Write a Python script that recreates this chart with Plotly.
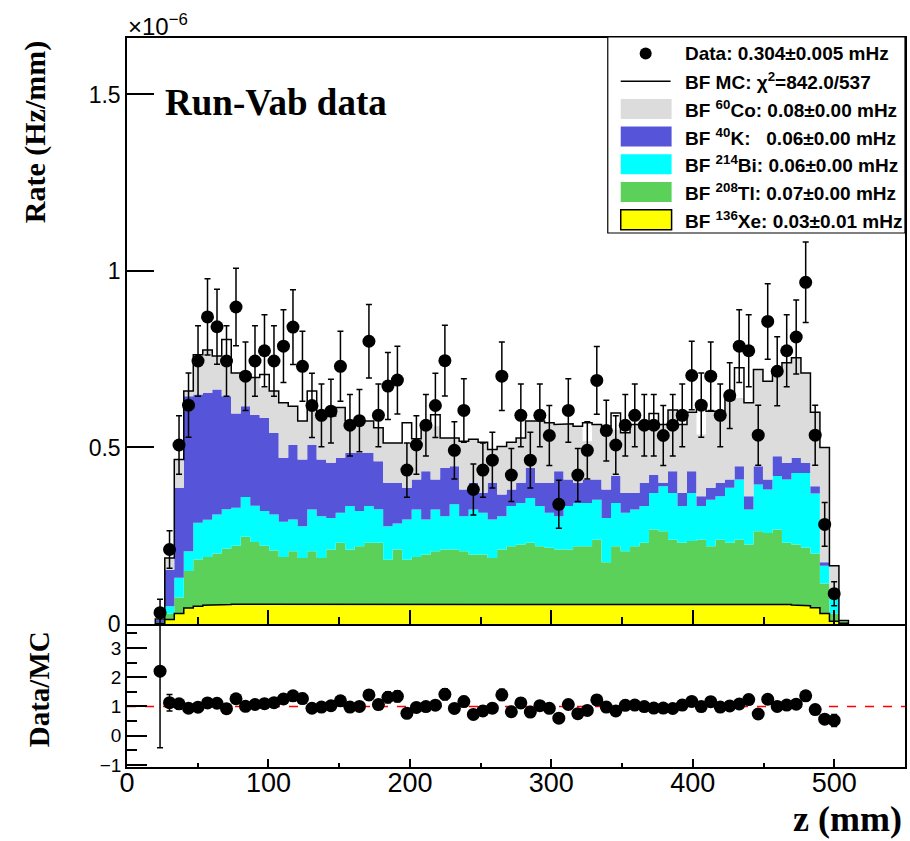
import numpy as np
import plotly.graph_objects as go

# ---------------- binning (z in mm) ----------------
z_lo, z_hi, n_bins = 20.0, 510.0, 73
edges = np.linspace(z_lo, z_hi, n_bins + 1)
centers = 0.5 * (edges[:-1] + edges[1:])

# ---------------- data (units of 1e-6 Hz/mm) ----------------
data_rate = [
    0.032, 0.211, 0.507, 0.620, 0.745, 0.870, 0.842, 0.745, 0.898, 0.702, 0.745, 0.774, 0.745, 0.787,
    0.841, 0.730, 0.619, 0.591, 0.603, 0.730, 0.563, 0.576, 0.801, 0.591, 0.674, 0.691, 0.436, 0.507,
    0.563, 0.619, 0.746, 0.492, 0.605, 0.381, 0.436, 0.464, 0.702, 0.422, 0.591, 0.464, 0.591, 0.534,
    0.339, 0.605, 0.422, 0.492, 0.690, 0.548, 0.507, 0.563, 0.591, 0.563, 0.563, 0.534, 0.563, 0.591, 0.704,
    0.620, 0.702, 0.591, 0.647, 0.787, 0.774, 0.535, 0.857, 0.716, 0.774, 0.813, 0.968, 0.535, 0.282, 0.086,
]
data_err = [
    0.038, 0.053, 0.083, 0.091, 0.100, 0.108, 0.106, 0.100, 0.110, 0.097, 0.100, 0.102, 0.100, 0.103,
    0.106, 0.099, 0.091, 0.089, 0.090, 0.099, 0.087, 0.088, 0.104, 0.089, 0.095, 0.096, 0.077, 0.083,
    0.087, 0.091, 0.100, 0.081, 0.090, 0.072, 0.077, 0.079, 0.097, 0.075, 0.089, 0.079, 0.089, 0.085,
    0.068, 0.090, 0.075, 0.081, 0.096, 0.086, 0.083, 0.087, 0.089, 0.087, 0.087, 0.085, 0.087, 0.089, 0.097,
    0.091, 0.097, 0.089, 0.093, 0.103, 0.102, 0.085, 0.107, 0.098, 0.102, 0.105, 0.114, 0.085, 0.062, 0.034,
]

# stacked MC levels (top of each component in the stack), 73 bins
lvl_xe = [
    0.002, 0.013, 0.030, 0.045, 0.050, 0.053, 0.055,
    0.055, 0.056, 0.056, 0.056, 0.057, 0.056, 0.057, 0.056, 0.056, 0.057,
    0.056, 0.056, 0.057, 0.056, 0.055, 0.056, 0.057, 0.056, 0.055, 0.056,
    0.056, 0.057, 0.056, 0.056, 0.055, 0.056, 0.057, 0.056, 0.056, 0.055,
    0.056, 0.056, 0.056, 0.055, 0.056, 0.057, 0.056, 0.056, 0.056, 0.057,
    0.056, 0.056, 0.055, 0.056, 0.056, 0.057, 0.056, 0.056, 0.057, 0.056,
    0.056, 0.055, 0.056, 0.056, 0.057, 0.056, 0.056, 0.056, 0.055, 0.055,
    0.054, 0.052, 0.046, 0.030, 0.008, 0.002,
]
lvl_tl = [
    0.004, 0.030, 0.075, 0.150, 0.183, 0.190, 0.200, 0.213, 0.222, 0.247, 0.232, 0.222, 0.208, 0.190,
    0.206, 0.187, 0.206, 0.187, 0.211, 0.230, 0.211, 0.220, 0.230, 0.230, 0.182, 0.211, 0.182, 0.190,
    0.197, 0.206, 0.211, 0.211, 0.206, 0.197, 0.197, 0.187, 0.211, 0.220, 0.225, 0.230, 0.220, 0.216,
    0.211, 0.211, 0.220, 0.220, 0.239,
    0.175, 0.220, 0.206, 0.220, 0.230, 0.268, 0.263, 0.239, 0.230, 0.235, 0.239, 0.220, 0.239, 0.230,
    0.239, 0.225, 0.263, 0.258, 0.268, 0.230, 0.225, 0.216, 0.200, 0.115, 0.030, 0.008,
]
lvl_bi = [
    0.006, 0.050, 0.131, 0.206, 0.287, 0.295, 0.310, 0.325, 0.329, 0.360, 0.335, 0.320, 0.310, 0.290,
    0.296, 0.277, 0.324, 0.305, 0.300, 0.315, 0.334, 0.320, 0.334, 0.325, 0.277, 0.285, 0.296, 0.324,
    0.296, 0.324, 0.305, 0.339, 0.305, 0.324, 0.315, 0.296, 0.305, 0.334, 0.343, 0.357, 0.334, 0.315,
    0.305, 0.334, 0.343, 0.343, 0.352,
    0.300, 0.343, 0.315, 0.324, 0.334, 0.371, 0.390, 0.371, 0.334, 0.371, 0.334, 0.352, 0.362, 0.386,
    0.409, 0.324, 0.395, 0.381, 0.419, 0.409, 0.428, 0.428, 0.370, 0.165, 0.085, 0.008,
]
lvl_k = [
    0.012, 0.154, 0.386, 0.645, 0.650, 0.655, 0.664, 0.645, 0.596, 0.617, 0.592, 0.584, 0.541, 0.471,
    0.508, 0.466, 0.508, 0.466, 0.457, 0.471, 0.485, 0.485, 0.485, 0.461, 0.400, 0.400, 0.386, 0.409,
    0.433, 0.409, 0.442, 0.447, 0.381, 0.400, 0.372, 0.400, 0.367, 0.381, 0.400, 0.442, 0.400, 0.400,
    0.433, 0.409, 0.400, 0.409, 0.409,
    0.381, 0.419, 0.371, 0.371, 0.400, 0.423, 0.400, 0.433, 0.371, 0.433, 0.362, 0.386, 0.400, 0.409,
    0.447, 0.362, 0.447, 0.409, 0.475, 0.457, 0.470, 0.457, 0.390, 0.175, 0.090, 0.008,
]
lvl_co = [
    0.0145, 0.187, 0.466, 0.660, 0.763, 0.776, 0.759, 0.735, 0.711, 0.698, 0.698, 0.669, 0.660, 0.627,
    0.617, 0.575, 0.626, 0.603, 0.589, 0.613, 0.575, 0.575, 0.575, 0.556, 0.513, 0.513, 0.513, 0.525,
    0.565, 0.560, 0.527, 0.527, 0.518, 0.523, 0.515, 0.494, 0.503, 0.515, 0.527, 0.575, 0.575, 0.570,
    0.565, 0.567, 0.560, 0.518, 0.565,
    0.560, 0.550, 0.542, 0.565, 0.565, 0.570, 0.565, 0.606, 0.565, 0.600, 0.537, 0.603, 0.603, 0.636,
    0.640, 0.627, 0.721, 0.688, 0.716, 0.740, 0.754, 0.711, 0.600, 0.500, 0.165, 0.010,
]
mc_total = [
    0.0145, 0.187, 0.466, 0.660, 0.763, 0.776, 0.759, 0.806, 0.711, 0.698, 0.698, 0.707, 0.660, 0.627,
    0.617, 0.575, 0.660, 0.603, 0.589, 0.613, 0.575, 0.575, 0.575, 0.556, 0.513, 0.513, 0.570, 0.525,
    0.565, 0.593, 0.527, 0.527, 0.518, 0.523, 0.515, 0.494, 0.503, 0.515, 0.527, 0.575, 0.575, 0.570,
    0.565, 0.567, 0.560, 0.570, 0.565,
    0.560, 0.598, 0.542, 0.565, 0.565, 0.596, 0.565, 0.606, 0.565, 0.600, 0.622, 0.603, 0.603, 0.636,
    0.726, 0.627, 0.721, 0.688, 0.716, 0.740, 0.754, 0.711, 0.600, 0.500, 0.165, 0.010,
]

legend_labels = [
    "Data: 0.304\u00b10.005 mHz",
    "BF MC: \u03c7<sup>2</sup>=842.0/537",
    "BF <sup>60</sup>Co: 0.08\u00b10.00 mHz",
    "BF <sup>40</sup>K:\u00a0\u00a0 0.06\u00b10.00 mHz",
    "BF <sup>214</sup>Bi: 0.06\u00b10.00 mHz",
    "BF <sup>208</sup>Tl: 0.07\u00b10.00 mHz",
    "BF <sup>136</sup>Xe: 0.03\u00b10.01 mHz",
]

C_CO, C_K, C_BI, C_TL, C_XE = "#dcdcdc", "#5654d8", "#00ffff", "#5bd159", "#ffff00"

# ---------------- derived ----------------
n_data = len(data_rate)
mc_arr = np.asarray(mc_total)
ratio = np.asarray(data_rate) / mc_arr[:n_data]
ratio_err = np.asarray(data_err) / mc_arr[:n_data]


def step(vals):
    xs = np.repeat(edges, 2)[1:-1]
    ys = np.repeat(np.asarray(vals, dtype=float), 2)
    return xs, ys


fig = go.Figure()

stack = [(lvl_xe, C_XE), (lvl_tl, C_TL), (lvl_bi, C_BI), (lvl_k, C_K), (lvl_co, C_CO)]
for i, (lv, col) in enumerate(stack):
    xs, ys = step(lv)
    fig.add_trace(go.Scatter(x=xs, y=ys, mode="lines", line=dict(width=0, color=col),
                             fill="tozeroy" if i == 0 else "tonexty", fillcolor=col,
                             hoverinfo="skip", xaxis="x", yaxis="y"))

# Xe outline
xs, ys = step(lvl_xe)
fig.add_trace(go.Scatter(x=xs, y=ys, mode="lines", line=dict(width=1.5, color="black"),
                         hoverinfo="skip", xaxis="x", yaxis="y"))
# total MC outline
xs, ys = step(mc_total)
xs_t = np.concatenate([[edges[0]], xs, [edges[-1]]])
ys_t = np.concatenate([[0.0], ys, [0.0]])
fig.add_trace(go.Scatter(x=xs_t, y=ys_t, mode="lines", line=dict(width=1.5, color="black"),
                         hoverinfo="skip", xaxis="x", yaxis="y"))
# data
fig.add_trace(go.Scatter(x=centers[:n_data], y=data_rate, mode="markers",
                         marker=dict(color="black", size=13),
                         error_y=dict(type="data", array=data_err, color="black", thickness=1.5, width=3),
                         xaxis="x", yaxis="y"))
# ratio
fig.add_trace(go.Scatter(x=centers[:n_data], y=ratio, mode="markers",
                         marker=dict(color="black", size=13),
                         error_y=dict(type="data", array=ratio_err, color="black", thickness=1.5, width=3),
                         xaxis="x2", yaxis="y2"))

# ---------------- layout helpers (pixel -> paper) ----------------
L, R, T, B, W, H = 127, 3, 38, 74, 910, 841
PW, PH = W - L - R, H - T - B


def px(x):
    return (x - L) / PW


def py(y):
    return (H - B - y) / PH


axis_common = dict(showline=True, linecolor="black", linewidth=1.5, mirror=True, showgrid=False,
                   zeroline=False, ticks="inside", tickcolor="black", tickwidth=1.5)
sans = "Liberation Sans, Arial, sans-serif"
serif = "Liberation Serif, Times New Roman, serif"

fig.update_layout(
    width=W, height=H, autosize=False,
    margin=dict(l=L, r=R, t=T, b=B, pad=0),
    paper_bgcolor="white", plot_bgcolor="white",
    showlegend=False,
    xaxis=dict(domain=[0, 1], range=[0, 550], anchor="y", showticklabels=False,
               tickmode="linear", tick0=0, dtick=100, ticklen=14,
               minor=dict(ticks="inside", dtick=50, tick0=0, ticklen=7, tickwidth=1.5, tickcolor="black"),
               **axis_common),
    yaxis=dict(domain=[py(624), 1], range=[0, 1.66], anchor="x",
               tickmode="linear", tick0=0, dtick=0.5, ticklen=27,
               tickfont=dict(family=sans, size=23, color="black"), **axis_common),
    xaxis2=dict(domain=[0, 1], range=[0, 550], anchor="y2",
                tickmode="linear", tick0=0, dtick=100, ticklen=8, ticklabelstandoff=-9,
                minor=dict(ticks="inside", dtick=50, tick0=0, ticklen=4, tickwidth=1.5, tickcolor="black"),
                tickfont=dict(family=sans, size=27, color="black"), **axis_common),
    yaxis2=dict(domain=[0, py(626)], range=[-1.07, 3.75], anchor="x2",
                tickmode="linear", tick0=-1, dtick=1, ticklen=20,
                minor=dict(ticks="inside", dtick=0.5, tick0=-1, ticklen=10, tickwidth=1.5, tickcolor="black"),
                tickfont=dict(family=sans, size=19, color="black"), **axis_common),
)

shapes = []
annotations = []

# red dashed unity line on ratio panel
shapes.append(dict(type="line", xref="x2", yref="y2", x0=0, x1=550, y0=1, y1=1,
                   line=dict(color="red", width=1.5, dash="dash"), layer="below"))

# legend box
shapes.append(dict(type="rect", xref="paper", yref="paper", x0=px(609), x1=px(907), y0=py(233), y1=py(37),
                   line=dict(color="black", width=1.2), fillcolor="white", layer="above"))
row_y = [53.5 + 27.7 * k for k in range(7)]
# data marker
shapes.append(dict(type="circle", xref="paper", yref="paper", x0=px(641), x1=px(653),
                   y0=py(row_y[0] + 6), y1=py(row_y[0] - 6), fillcolor="black", line=dict(width=0), layer="above"))
# MC line
shapes.append(dict(type="line", xref="paper", yref="paper", x0=px(622), x1=px(672), y0=py(row_y[1]), y1=py(row_y[1]),
                   line=dict(color="black", width=1.5), layer="above"))
for k, col in zip(range(2, 7), [C_CO, C_K, C_BI, C_TL, C_XE]):
    shapes.append(dict(type="rect", xref="paper", yref="paper", x0=px(622), x1=px(673),
                       y0=py(row_y[k] + 10), y1=py(row_y[k] - 10), fillcolor=col,
                       line=dict(color="black", width=1.5) if col == C_XE else dict(width=0), layer="above"))
for k, lab in enumerate(legend_labels):
    annotations.append(dict(text="<b>" + lab + "</b>", xref="paper", yref="paper", x=px(684), y=py(row_y[k]),
                            xanchor="left", yanchor="middle", showarrow=False,
                            font=dict(family=sans, size=19, color="black")))

# texts
annotations += [
    dict(text="\u00d710<sup>\u22126</sup>", xref="paper", yref="paper", x=px(126), y=py(25),
         xanchor="left", yanchor="middle", showarrow=False, font=dict(family=sans, size=24, color="black")),
    dict(text="<b>Run-Vab data</b>", xref="paper", yref="paper", x=px(163), y=py(103),
         xanchor="left", yanchor="middle", showarrow=False, font=dict(family=serif, size=37, color="black")),
    dict(text="<b>Rate (Hz/mm)</b>", xref="paper", yref="paper", x=px(35), y=py(132), textangle=-90,
         xanchor="center", yanchor="middle", showarrow=False, font=dict(family=serif, size=30, color="black")),
    dict(text="<b>Data/MC</b>", xref="paper", yref="paper", x=px(39), y=py(689), textangle=-90,
         xanchor="center", yanchor="middle", showarrow=False, font=dict(family=serif, size=29, color="black")),
    dict(text="<b>z (mm)</b>", xref="paper", yref="paper", x=px(906), y=py(819),
         xanchor="right", yanchor="middle", showarrow=False, font=dict(family=serif, size=36, color="black")),
]

fig.update_layout(shapes=shapes, annotations=annotations)
fig.write_html("out.html")
